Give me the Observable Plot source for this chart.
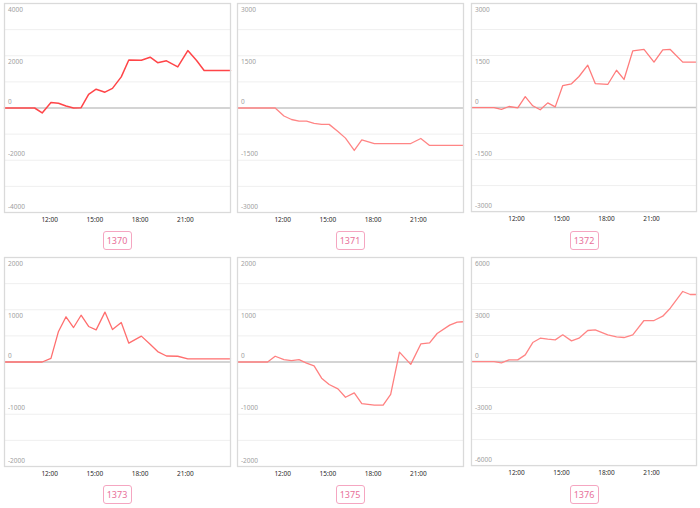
<!DOCTYPE html>
<html>
<head>
<meta charset="utf-8">
<script src="https://cdn.jsdelivr.net/npm/d3@7"></script>
<script src="https://cdn.jsdelivr.net/npm/@observablehq/plot@0.6"></script>
<style>
  html, body { margin: 0; padding: 0; background: #fff; }
  #wrap { position: relative; width: 700px; height: 508px; overflow: hidden; font-family: "Noto Sans", sans-serif; }
  .panel { position: absolute; }
  .tag { position: absolute; width: 29px; height: 19px; box-sizing: border-box; border: 1px solid #f5a6c1; border-radius: 3px;
         color: #e8709a; font-size: 9px; display: flex; align-items: center; justify-content: center; font-family: "Noto Sans", sans-serif; }
</style>
</head>
<body>
<div id="wrap"></div>
<script>
// ---- data ----
const names = ["1370", "1371", "1372", "1373", "1375", "1376"];
const yMax = [4000, 3000, 3000, 2000, 2000, 6000];
const times = ["09:00","10:30","11:00","11:30","12:05","12:35","13:05","13:35","14:05","14:35","15:05","15:40","16:10",
               "16:45","17:15","18:05","18:40","19:10","19:45","20:30","21:10","21:45","22:15","23:05","23:35","24:00"];
const s1370 = [0,0,0,-190,210,180,75,0,10,525,720,605,750,1190,1840,1830,1945,1735,1805,1575,2200,1820,1435,1435,1435,1435];
const s1371 = [0,0,0,0,-230,-330,-375,-375,-440,-470,-470,-675,-865,-1220,-915,-1020,-1020,-1020,-1020,-1020,-875,-1075,-1075,-1075,-1075,-1075];
const s1372 = [0,0,-50,30,-10,315,50,-65,135,20,635,685,895,1220,690,665,1075,810,1635,1675,1310,1665,1675,1310,1310,1310];
const s1373 = [0,0,0,0,70,585,865,660,895,680,615,955,620,755,360,495,340,200,115,110,60,60,60,60,60,60];
const s1375 = [0,0,0,110,45,25,45,-20,-75,-310,-430,-515,-675,-590,-795,-825,-825,-620,190,-45,345,365,545,705,765,770];
const s1376 = [0,0,-75,95,95,385,1095,1345,1290,1250,1540,1190,1345,1790,1825,1540,1425,1385,1540,2365,2365,2615,3075,4040,3865,3865];
const series = [s1370, s1371, s1372, s1373, s1375, s1376];
const lineColors = ["#ff4548", "#ff8585", "#ff7c7c", "#ff6e6e", "#ff8080", "#ff8585"];
const xStart = "09:00", xEnd = "24:00";
const xTicks = ["12:00", "15:00", "18:00", "21:00"];

// ---- helpers ----
const t = s => { const [h, m] = s.split(":").map(Number); return new Date(Date.UTC(2024, 0, 1, h, m)); };
const fmt = d3.utcFormat("%H:%M");

const colLeft = [4, 237, 471];   // frame left edges
const rowTop = [3, 257];         // frame top edges
const FW = 226, FH = 209;
const wrap = document.getElementById("wrap");

series.forEach((vals, i) => {
  const col = i % 3, row = Math.floor(i / 3);
  const D = yMax[i];
  const rows = times.map((s, k) => ({t: t(s), v: vals[k]}));
  const grid = d3.range(-4, 5).map(k => k * D / 4).filter(v => v !== 0);
  const labels = d3.range(-2, 3).map(k => k * D / 2);
  const pos = labels.filter(v => v > 0), neg = labels.filter(v => v <= 0);
  const plot = Plot.plot({
    width: FW + 8, height: FH + 3 + 18,
    marginLeft: 4, marginRight: 4, marginTop: 3, marginBottom: 18,
    style: {fontFamily: "Noto Sans, sans-serif", fontSize: "6.5px", background: "transparent", overflow: "visible", color: "#333"},
    x: {type: "utc", domain: [t(xStart), t(xEnd)]},
    y: {domain: [-D, D]},
    marks: [
      Plot.ruleY(grid, {stroke: "#efefef", strokeWidth: 1}),
      Plot.ruleY([0], {stroke: "#c6c6c6", strokeWidth: 1.6}),
      Plot.line(rows, {x: "t", y: "v", stroke: lineColors[i], strokeWidth: i === 0 ? 1.5 : 1.3}),
      Plot.text(pos, {y: d => d, text: d => String(d), frameAnchor: "left", dx: 3.5, dy: 6, textAnchor: "start", fill: "#a0a0a0", fontSize: 6.5}),
      Plot.text(neg, {y: d => d, text: d => String(d), frameAnchor: "left", dx: 3.5, dy: -6, textAnchor: "start", fill: "#a0a0a0", fontSize: 6.5}),
      Plot.axisX({ticks: xTicks.map(t), tickFormat: fmt, tickSize: 0, tickPadding: 5, label: null, fill: "#2a2a2a", fontSize: 6.5}),
      Plot.axisY({ticks: [], label: null, tickSize: 0}),
      Plot.frame({stroke: "#dadada", strokeWidth: 1.3})
    ]
  });
  const div = document.createElement("div");
  div.className = "panel";
  div.style.left = (colLeft[col] - 4) + "px";
  div.style.top = (rowTop[row] - 3) + "px";
  div.appendChild(plot);
  wrap.appendChild(div);

  const tag = document.createElement("div");
  tag.className = "tag";
  tag.textContent = names[i];
  tag.style.left = (colLeft[col] + FW / 2 - 14.5) + "px";
  tag.style.top = (rowTop[row] + FH + 19) + "px";
  wrap.appendChild(tag);
});
</script>
</body>
</html>
